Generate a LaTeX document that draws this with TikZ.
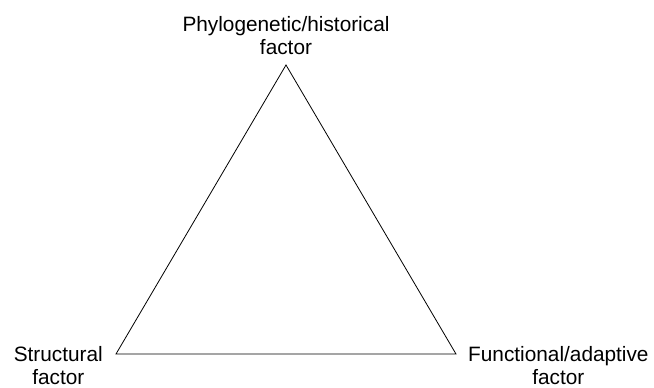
\documentclass[tikz,border=0pt]{standalone}
\usepackage{fontspec}
\setmainfont{Liberation Sans}
\usetikzlibrary{positioning}

\begin{document}
\begin{tikzpicture}[x=1pt, y=1pt, font=\fontsize{20.8}{23.5}\selectfont,
    factor/.style={inner sep=0pt, align=center}]
    \useasboundingbox (0,0) rectangle (654,388);
    \coordinate (apex) at (286,323);
    \coordinate (leftv) at (116,34);
    \coordinate (rightv) at (456,34);
    \draw[line width=0.8pt, line join=miter] (apex) -- (rightv) -- (leftv) -- cycle;
    \node[factor, above=10pt of apex] (historical) {Phylogenetic/historical\\factor};
    \node[factor, below left=-8pt and 13pt of leftv] (structural) {Structural\\factor};
    \node[factor, below right=-8pt and 12pt of rightv] (functional) {Functional/adaptive\\factor};
  \end{tikzpicture}
\end{document}
